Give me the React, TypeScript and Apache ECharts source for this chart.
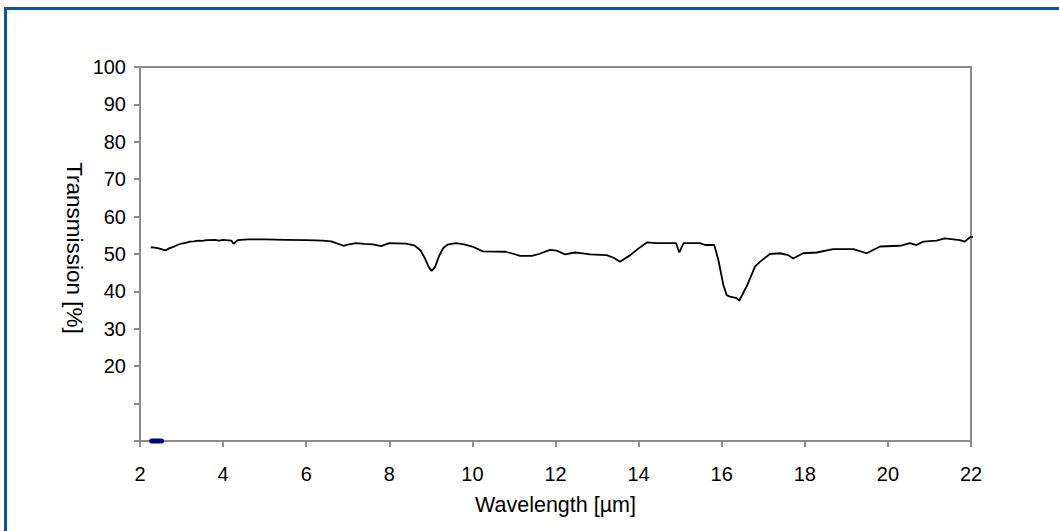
import React, { useEffect, useRef } from "react";
import * as echarts from "echarts";

const wavelength: number[] = [
  2.26, 2.35, 2.45, 2.55, 2.62, 2.7, 2.8, 2.9, 3.0, 3.1, 3.2, 3.3, 3.4, 3.5, 3.6, 3.8, 3.9, 4.0, 4.2, 4.25,
  4.35, 4.6, 5.0, 5.5, 6.0, 6.4, 6.6, 6.8, 6.9, 7.0, 7.2, 7.4, 7.6, 7.8, 8.0, 8.4, 8.6, 8.75, 8.85, 8.95,
  9.02, 9.1, 9.2, 9.3, 9.4, 9.6, 9.8, 10.0, 10.25, 10.8, 11.0, 11.15, 11.43, 11.6, 11.87, 12.03, 12.23, 12.47, 12.7, 12.83,
  13.23, 13.4, 13.55, 13.8, 14.0, 14.2, 14.43, 14.9, 14.98, 15.08, 15.48, 15.6, 15.82, 15.92, 16.04, 16.12, 16.2, 16.36, 16.42, 16.6,
  16.8, 16.92, 17.16, 17.4, 17.6, 17.72, 17.96, 18.29, 18.68, 19.17, 19.49, 19.81, 20.29, 20.53, 20.69, 20.85, 21.17, 21.37, 21.73, 21.85,
  21.99, 22.22,
];

const transmission: number[] = [
  51.8, 51.7, 51.5, 51.2, 51.0, 51.5, 51.9, 52.4, 52.8, 53.0, 53.3, 53.4, 53.6, 53.5, 53.7, 53.8, 53.6, 53.8, 53.6, 52.7,
  53.7, 53.9, 53.9, 53.8, 53.7, 53.6, 53.4, 52.6, 52.2, 52.5, 52.9, 52.7, 52.6, 52.1, 52.9, 52.8, 52.3, 51.0, 49.0, 46.5,
  45.5, 46.5, 49.5, 51.6, 52.5, 52.9, 52.6, 52.0, 50.7, 50.6, 50.0, 49.5, 49.5, 50.0, 51.1, 50.9, 49.9, 50.4, 50.1, 49.9,
  49.7, 49.0, 47.9, 49.7, 51.5, 53.1, 52.9, 52.9, 50.4, 52.9, 52.9, 52.4, 52.4, 48.4, 41.7, 39.0, 38.6, 38.2, 37.5, 41.3,
  46.6, 47.9, 50.0, 50.2, 49.7, 48.8, 50.2, 50.4, 51.3, 51.3, 50.2, 52.0, 52.2, 52.9, 52.4, 53.3, 53.6, 54.2, 53.7, 53.3,
  54.6, 54.6,
];

const markerX: number[] = [2.28, 2.52];
const markerY: number[] = [0, 0];

const xMin = 2;
const xMax = 22;
const xStep = 2;
const yMin = 0;
const yMax = 100;
const yStep = 10;

const xTitle = "Wavelength [µm]";
const yTitle = "Transmission [%]";

const FONT = "'Liberation Sans', Arial, Helvetica, sans-serif";
const AXIS_COLOR = "#8c8c8c";
const FRAME_COLOR = "#0b55a3";

export default function App() {
  const ref = useRef<HTMLDivElement>(null);

  useEffect(() => {
    if (!ref.current) return;
    const chart = echarts.init(ref.current, undefined, { renderer: "svg" });
    const lineData = wavelength.map((w, i) => [w, transmission[i]]);
    const markerData = markerX.map((w, i) => [w, markerY[i]]);
    chart.setOption({
      animation: false,
      backgroundColor: "#ffffff",
      grid: {
        left: 140,
        top: 67,
        right: 88,
        bottom: 90,
        show: true,
        borderColor: AXIS_COLOR,
        borderWidth: 2,
        backgroundColor: "transparent",
      },
      xAxis: {
        type: "value",
        min: xMin,
        max: xMax,
        interval: xStep,
        name: xTitle,
        nameLocation: "middle",
        nameGap: 53,
        nameTextStyle: { color: "#000", fontFamily: FONT, fontSize: 21.5 },
        axisLine: { show: true, lineStyle: { color: AXIS_COLOR, width: 2 } },
        axisTick: { show: true, inside: false, length: 6, lineStyle: { color: AXIS_COLOR, width: 2 } },
        axisLabel: { color: "#000", fontFamily: FONT, fontSize: 20, margin: 23 },
        splitLine: { show: false },
      },
      yAxis: {
        type: "value",
        min: yMin,
        max: yMax,
        interval: yStep,
        axisLine: { show: true, lineStyle: { color: AXIS_COLOR, width: 2 } },
        axisTick: { show: true, inside: false, length: 6, lineStyle: { color: AXIS_COLOR, width: 2 } },
        axisLabel: {
          color: "#000",
          fontFamily: FONT,
          fontSize: 20,
          margin: 14,
          formatter: (v: number) => (v >= 20 ? String(v) : ""),
        },
        splitLine: { show: false },
      },
      graphic: [
        { type: "rect", shape: { x: 4, y: 7, width: 3, height: 530 }, style: { fill: FRAME_COLOR } },
        { type: "rect", shape: { x: 4, y: 7, width: 1060, height: 3 }, style: { fill: FRAME_COLOR } },
        {
          type: "text",
          x: 74,
          y: 248,
          rotation: -Math.PI / 2,
          style: {
            text: yTitle,
            fill: "#000",
            font: `22.5px ${FONT}`,
            align: "center",
            verticalAlign: "middle",
          },
        },
      ],
      series: [
        {
          type: "line",
          data: lineData,
          showSymbol: false,
          clip: false,
          lineStyle: { color: "#000", width: 1.8 },
          z: 3,
        },
        {
          type: "line",
          data: markerData,
          showSymbol: false,
          clip: false,
          lineStyle: { color: "#00008b", width: 5, cap: "round" },
          z: 4,
        },
      ],
    });
    return () => chart.dispose();
  }, []);

  return (
    <div
      ref={ref}
      style={{ position: "fixed", left: 0, top: 0, width: 1059, height: 531, background: "#fff" }}
    />
  );
}
